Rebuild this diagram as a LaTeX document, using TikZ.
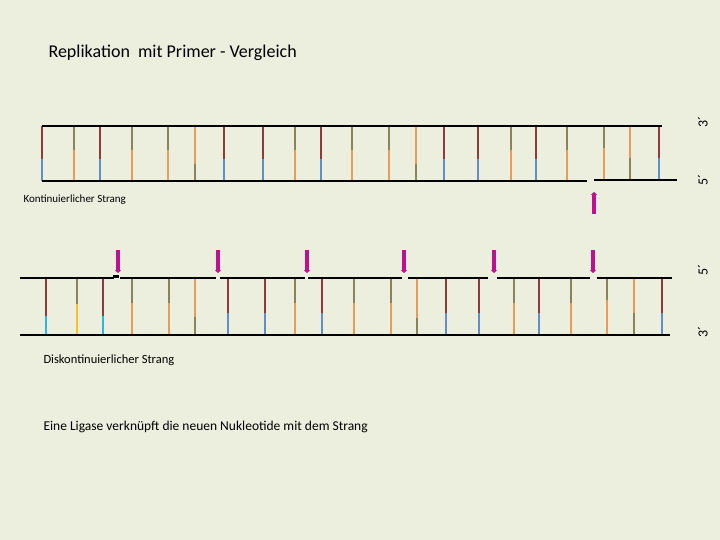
\documentclass[tikz,border=0pt]{standalone}
\usepackage{fontspec}
\setmainfont{Carlito}
\usetikzlibrary{arrows.meta}
\definecolor{bgcol}{HTML}{ECEEDE}
\definecolor{rbrown}{HTML}{8E3B3E}
\definecolor{rblue}{HTML}{5F8FC4}
\definecolor{rolive}{HTML}{8A8558}
\definecolor{rorange}{HTML}{E89C5C}
\definecolor{rcyan}{HTML}{2FB3E0}
\definecolor{ryellow}{HTML}{F2C230}
\definecolor{rmagenta}{HTML}{C0108E}
\tikzset{
	strand/.style={line width=2.6pt, black},
	rung/.style={line width=2.4pt},
	primer/.style={rmagenta, line width=3.6pt, -{Triangle[length=3pt,width=6pt]}},
	endlabel/.style={rotate=90, font=\fontsize{14}{14}\selectfont},
	caption/.style={anchor=west, font=\fontsize{11}{13}\selectfont}
}
\begin{document}
\begin{tikzpicture}[x=1pt,y=-1pt]
\useasboundingbox[fill=bgcol] (0,0) rectangle (720,540);

\node[anchor=west, font=\fontsize{18}{20}\selectfont] (title) at (45,53) {Replikation\ \ mit Primer - Vergleich};

% oben: kontinuierlicher Strang
\foreach \x/\ca/\cb/\s in {42/rbrown/rblue/159, 74/rolive/rorange/150, 100/rbrown/rblue/159,
	132/rolive/rorange/150, 168/rolive/rorange/150, 195/rorange/rolive/164, 224/rbrown/rblue/159,
	263/rbrown/rblue/159, 295/rolive/rorange/150, 321/rbrown/rblue/159, 352/rolive/rorange/150,
	389/rolive/rorange/150, 416/rorange/rolive/164, 444/rbrown/rblue/159, 478/rbrown/rblue/159,
	511/rolive/rorange/150, 536/rbrown/rblue/159, 567/rolive/rorange/150, 604/rolive/rorange/148,
	630/rorange/rolive/158, 659/rbrown/rblue/158}{
	\draw[rung, \ca] (\x,126) -- (\x,\s);
	\draw[rung, \cb] (\x,\s) -- (\x,181);
}
\draw[strand] (42,126) -- (662,126);
\draw[strand] (42,181) -- (587,181);
\draw[strand] (594,180) -- (677,180);
\coordinate (upA) at (594,214);
\coordinate (upB) at (594,192);
\draw[primer] (upA) -- (upB);

\node[caption] (kont) at (20,200) {Kontinuierlicher Strang};

% unten: diskontinuierlicher Strang
\foreach \x/\ca/\cb/\s in {46/rbrown/rcyan/316, 77/rolive/ryellow/304, 103/rbrown/rcyan/316,
	132/rolive/rorange/303, 169/rolive/rorange/303, 195/rorange/rolive/317, 228/rbrown/rblue/313,
	265/rbrown/rblue/313, 295/rolive/rorange/303, 322/rbrown/rblue/313, 354/rolive/rorange/303,
	391/rolive/rorange/303, 417/rorange/rolive/318, 446/rbrown/rblue/313, 479/rbrown/rblue/313,
	514/rolive/rorange/303, 539/rbrown/rblue/313, 571/rolive/rorange/303, 607/rolive/rorange/300,
	634/rorange/rolive/313, 662/rbrown/rblue/313}{
	\draw[rung, \ca] (\x,279) -- (\x,\s);
	\draw[rung, \cb] (\x,\s) -- (\x,335);
}
\foreach \a/\b in {20/114, 120/216, 220/305, 308/402, 408/488, 497/590, 597/672}{
	\draw[strand] (\a,278) -- (\b,278);
}
\draw[strand] (113,276.5) -- (119,276.5);
\draw[strand] (20,335) -- (670,335);
\foreach \x in {118,218,307,404,494,593}{
	\coordinate (dnA\x) at (\x,250);
	\coordinate (dnB\x) at (\x,273);
	\draw[primer] (dnA\x) -- (dnB\x);
}

\node[endlabel] (e1) at (703,122) {3´};
\node[endlabel] (e2) at (703,180) {5´};
\node[endlabel] (e3) at (703,270) {5´};
\node[endlabel] (e4) at (703,332) {3´};

\node[caption, font=\fontsize{12.5}{14}\selectfont] (disk) at (40,360) {Diskontinuierlicher Strang};
\node[caption, font=\fontsize{13.5}{15}\selectfont] (ligase) at (40,427) {Eine Ligase verknüpft die neuen Nukleotide mit dem Strang};
\end{tikzpicture}
\end{document}
